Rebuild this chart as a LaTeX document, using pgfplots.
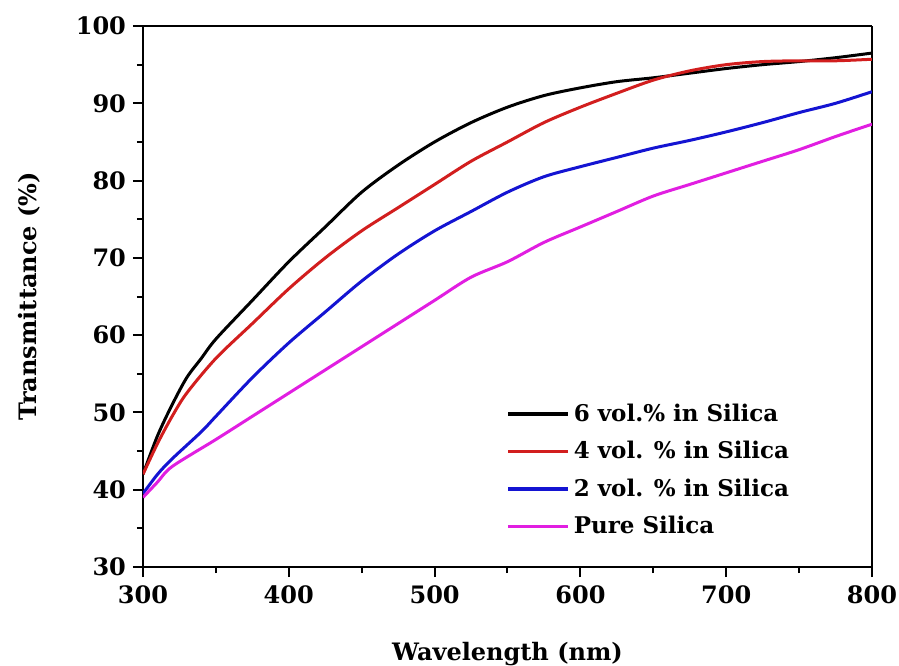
\documentclass[border=0pt]{standalone}
\usepackage{pgfplots}
\pgfplotsset{compat=1.18}
\usepackage{fontspec}
\setmainfont{DejaVu Serif}
\begin{document}
\begin{tikzpicture}[x=1pt,y=1pt]
\useasboundingbox (-71.5,-49) rectangle (378,283.5);
\begin{axis}[
  at={(0,0)}, anchor=origin,
  scale only axis, width=364.5pt, height=270.5pt,
  xmin=300, xmax=800, ymin=30, ymax=100,
  xtick={300,400,...,800}, ytick={30,40,...,100},
  minor x tick num=1, minor y tick num=1,
  tick align=outside, tick pos=left,
  major tick length=5pt, minor tick length=3pt,
  every tick/.style={black, line width=1pt},
  axis line style={line width=0.6pt},
  separate axis lines,
  x axis line style={line width=1.2pt},
  y axis line style={line width=1.2pt},
  /pgf/number format/assume math mode=true,
  ticklabel style={font=\fontsize{12}{14}\selectfont\bfseries},
  xticklabel style={yshift=-1pt},
  xlabel={Wavelength (nm)}, ylabel={Transmittance (\%)},
  label style={font=\fontsize{12}{14}\selectfont\bfseries},
  xlabel style={yshift=-12pt},
  ylabel style={yshift=11pt},
  legend style={draw=none, fill=none, at={(axis cs:545,52.2)}, anchor=north west,
    font=\fontsize{11.5}{13}\selectfont\bfseries, row sep=4.5pt},
  legend cell align=left,
  legend image post style={line width=1.6pt},
  legend image code/.code={\draw[#1] (0pt,0pt) -- (30pt,0pt);},
  every axis plot/.append style={line width=1.5pt, smooth},
]
\addplot[black] coordinates {(300,42) (310,47) (320,51) (330,54.5) (340,57) (350,59.5) (375,64.5) (400,69.5) (425,74) (450,78.5) (475,82) (500,85) (525,87.5) (550,89.5) (575,91) (600,92) (625,92.8) (650,93.3) (675,93.9) (700,94.5) (725,95) (750,95.4) (775,95.9) (800,96.5)};
\addplot[color={rgb,255:red,210;green,30;blue,30}] coordinates {(300,42) (310,46) (320,49.5) (330,52.5) (350,57) (375,61.5) (400,66) (425,70) (450,73.5) (475,76.5) (500,79.5) (525,82.5) (550,85) (575,87.5) (600,89.5) (625,91.3) (650,93) (675,94.2) (700,95) (725,95.4) (750,95.5) (775,95.5) (800,95.7)};
\addplot[color={rgb,255:red,20;green,20;blue,210}] coordinates {(300,39.5) (310,42) (320,44) (340,47.5) (350,49.5) (375,54.5) (400,59) (425,63) (450,67) (475,70.5) (500,73.5) (525,76) (550,78.5) (575,80.5) (600,81.8) (625,83) (650,84.2) (675,85.2) (700,86.3) (725,87.5) (750,88.8) (775,90) (800,91.5)};
\addplot[color={rgb,255:red,225;green,30;blue,225}] coordinates {(300,39) (310,41) (320,43) (350,46.5) (375,49.5) (400,52.5) (425,55.5) (450,58.5) (475,61.5) (500,64.5) (525,67.5) (550,69.5) (575,72) (600,74) (625,76) (650,78) (675,79.5) (700,81) (725,82.5) (750,84) (775,85.7) (800,87.3)};
\legend{6 vol.\% in Silica, 4 vol. \% in Silica, 2 vol. \% in Silica, Pure Silica}
\end{axis}
\end{tikzpicture}
\end{document}
